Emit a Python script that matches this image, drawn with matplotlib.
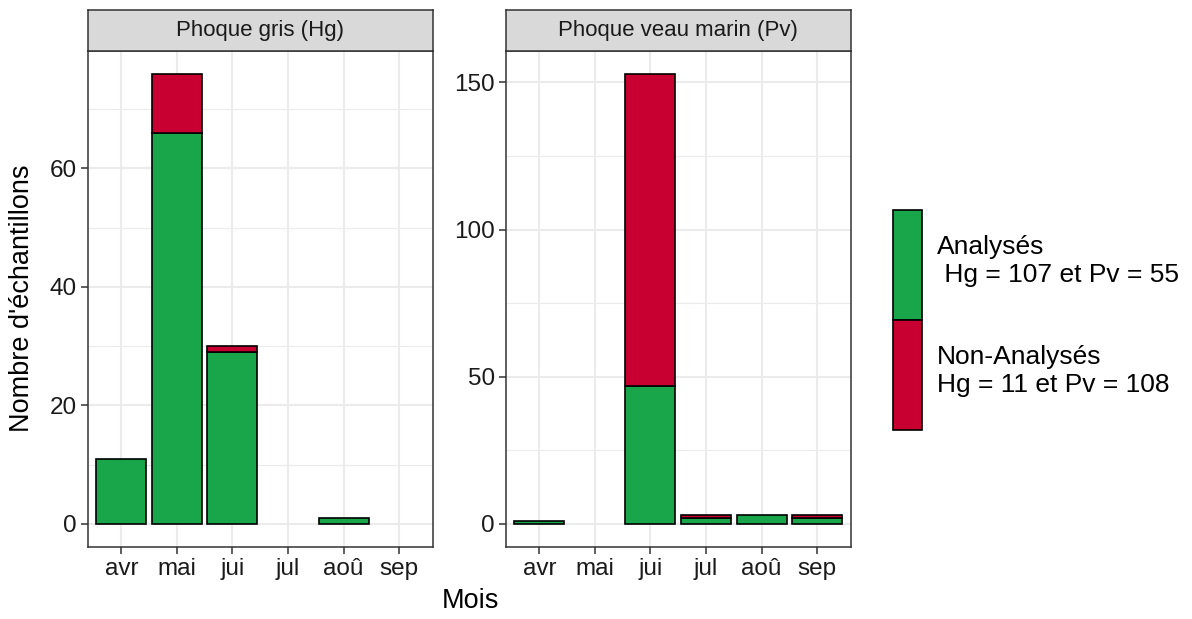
import matplotlib
matplotlib.use("Agg")
import matplotlib.pyplot as plt
from matplotlib.patches import Patch
from matplotlib.ticker import MultipleLocator
import numpy as np

plt.rcParams['font.family'] = ['Liberation Sans', 'DejaVu Sans']

months = ["avr", "mai", "jui", "jul", "aoû", "sep"]
panels = ["Phoque gris (Hg)", "Phoque veau marin (Pv)"]
hg_analyses = [11, 66, 29, 0, 1, 0]
hg_non = [0, 10, 1, 0, 0, 0]
pv_analyses = [1, 0, 47, 2, 3, 2]
pv_non = [0, 0, 106, 1, 0, 1]
legend_labels = ["Analysés\n Hg = 107 et Pv = 55", "Non-Analysés\nHg = 11 et Pv = 108"]

green = "#19A54A"
red = "#C80032"
border = "#333333"

fig = plt.figure(figsize=(11.92, 6.19), dpi=100)
W, H = 1192, 619
top_px, bot_px = 51, 546.5
strip_px = 41.5
lefts = [88, 506]
width_px = 344.5

data = [(hg_analyses, hg_non, 20, 10), (pv_analyses, pv_non, 50, 25)]
x = np.arange(len(months))
for i, (ana, non, maj, mnr) in enumerate(data):
    ax = fig.add_axes([lefts[i] / W, 1 - bot_px / H, width_px / W, (bot_px - top_px) / H])
    ana = np.array(ana); non = np.array(non)
    tot = ana + non
    ma = ana > 0
    mn = non > 0
    ax.bar(x[ma], ana[ma], width=0.9, color=green, edgecolor="black", linewidth=1.2, zorder=3)
    ax.bar(x[mn], non[mn], width=0.9, bottom=ana[mn], color=red, edgecolor="black", linewidth=1.2, zorder=3)
    ymax = tot.max()
    ax.set_ylim(-0.05 * ymax, ymax * 1.05)
    ax.set_xlim(-0.6, len(months) - 0.4)
    ax.set_xticks(x)
    ax.set_xticklabels(months)
    ax.yaxis.set_major_locator(MultipleLocator(maj))
    ax.yaxis.set_minor_locator(MultipleLocator(mnr))
    ax.grid(which="major", color="#EBEBEB", linewidth=1.5, zorder=0)
    ax.grid(which="minor", axis="y", color="#EBEBEB", linewidth=0.8, zorder=0)
    ax.set_axisbelow(True)
    for s in ax.spines.values():
        s.set_color(border)
        s.set_linewidth(1.1)
    ax.tick_params(axis="both", which="major", labelsize=17.5, color=border, length=5, width=1.1,
                   labelcolor="#1a1a1a", pad=3)
    ax.tick_params(axis="both", which="minor", length=0)
    sax = fig.add_axes([lefts[i] / W, 1 - top_px / H, width_px / W, strip_px / H])
    sax.set_facecolor("#D9D9D9")
    sax.set_xticks([]); sax.set_yticks([])
    for s in sax.spines.values():
        s.set_color(border)
        s.set_linewidth(1.1)
    sax.text(0.5, 0.5, panels[i], ha="center", va="center", fontsize=16, color="#1a1a1a",
             transform=sax.transAxes)

fig.text(22 / W, 1 - ((top_px + bot_px) / 2) / H, "Nombre d'échantillons", rotation=90,
         ha="center", va="center", fontsize=19.5)
fig.text(470 / W, 1 - 601 / H, "Mois", ha="center", va="center", fontsize=19.5)

handles = [Patch(facecolor=green, edgecolor="black", linewidth=1.2),
           Patch(facecolor=red, edgecolor="black", linewidth=1.2)]
fig.legend(handles, legend_labels, loc="center left", bbox_to_anchor=(893 / W, 1 - 320 / H),
           frameon=False, fontsize=19, handlelength=1.1, handleheight=6.03,
           labelspacing=0.0, handletextpad=0.57, borderpad=0, borderaxespad=0)

fig.savefig("out.png", dpi=100)
